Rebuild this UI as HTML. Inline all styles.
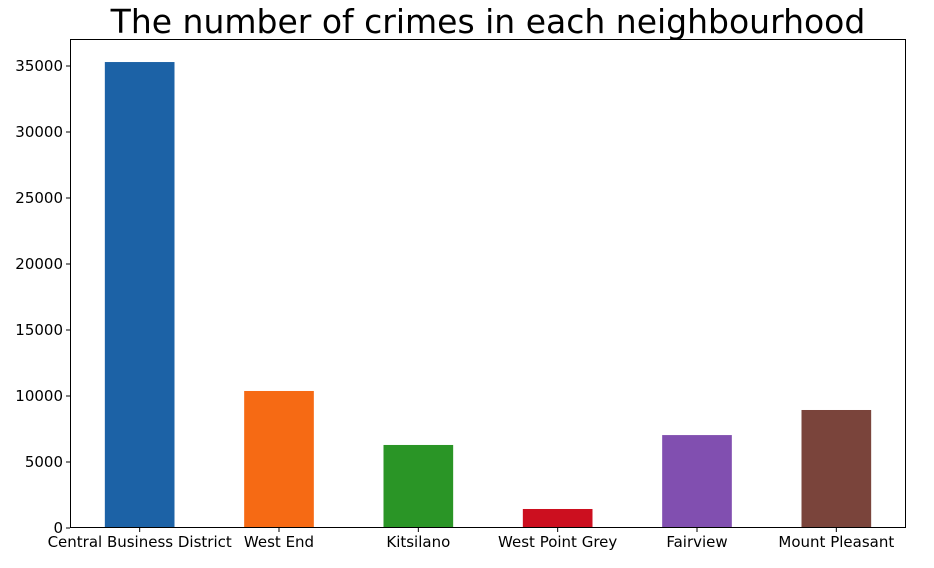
<!DOCTYPE html>
<html><head><meta charset="utf-8"><style>
body{margin:0;background:#fff;}
svg text{font-family:"DejaVu Sans","Liberation Sans",sans-serif;fill:#000;}
</style></head><body>
<svg id="chart" width="934" height="563" xmlns="http://www.w3.org/2000/svg">
<text x="488" y="33" font-size="33" text-anchor="middle">The number of crimes in each neighbourhood</text>
<g id="bars"></g>
<g id="yticks"></g>
<g id="xticks"></g>
<rect x="70.5" y="39.5" width="835" height="488" fill="none" stroke="#000" stroke-width="1"/>
</svg>
<script>
const categories=["Central Business District","West End","Kitsilano","West Point Grey","Fairview","Mount Pleasant"];
const values=[35300,10380,6290,1440,7040,8940];
const colors=["#1c62a6","#f66a14","#2a9526","#cc0f1f","#814fb0","#7a443b"];
const yTicks=[0,5000,10000,15000,20000,25000,30000,35000];
const L=70,R=906,T=39,B=528,yMax=37045;
const ns="http://www.w3.org/2000/svg";
const y=v=>B-(v/yMax)*(B-T);
const step=(R-L)/categories.length;
const x=i=>L+step*(i+0.5);
const bars=document.getElementById('bars'),yt=document.getElementById('yticks'),xt=document.getElementById('xticks');
function mk(t,a){const e=document.createElementNS(ns,t);for(const k in a)e.setAttribute(k,a[k]);return e;}
values.forEach((v,i)=>{
 const r=mk('rect',{x:x(i)-step*0.25,y:y(v),width:step*0.5,height:B-y(v),fill:colors[i]});
 
 
 bars.appendChild(r);
 const tk=mk('line',{x1:x(i),x2:x(i),y1:B,y2:B+4,stroke:'#000'});
 
 
 xt.appendChild(tk);
 const tl=mk('text',{x:x(i),y:B+19,'font-size':15,'text-anchor':'middle'});
 tl.textContent=categories[i];
 
 
 xt.appendChild(tl);
});
yTicks.forEach(v=>{
 const tk=mk('line',{x1:L-4,x2:L,y1:y(v),y2:y(v),stroke:'#000'});
 
 
 yt.appendChild(tk);
 const tl=mk('text',{x:L-7,y:y(v)+5,'font-size':15,'text-anchor':'end'});
 tl.textContent=v;
 
 
 yt.appendChild(tl);
});
</script>
</body></html>
